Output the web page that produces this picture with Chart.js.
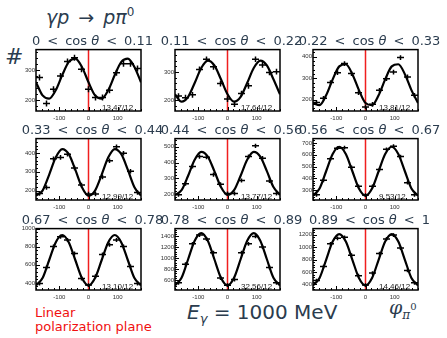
<!DOCTYPE html>
<html>
<head>
<meta charset="utf-8">
<script src="https://cdn.jsdelivr.net/npm/chart.js@4.4.1/dist/chart.umd.min.js"></script>
<style>
  body { margin: 0; width: 447px; height: 338px; background: #fff; position: relative; overflow: hidden; font-family: "DejaVu Sans", sans-serif; }
  canvas { position: absolute; }
  .txt { position: absolute; white-space: pre; color: #2b3c4e; line-height: 1; }
  .bin { font-size: 13px; width: 170px; text-align: center; }
  .lt { margin: 0 7px; }
</style>
</head>
<body>
<div class="txt" style="left:46px;top:8px;font-size:19px"><i>γp</i><span style="margin:0 9px">→</span><i>pπ</i><span style="font-size:12px;position:relative;top:-8px">0</span></div>
<div class="txt" style="left:5px;top:46px;font-size:22px">#</div>
<div class="txt" style="left:35px;top:306px;font-size:13px;line-height:13.5px;color:#f01010">Linear
polarization plane</div>
<div class="txt" style="left:187px;top:302px;font-size:20px"><i>E</i><span style="font-size:13px;position:relative;top:4px"><i>γ</i></span> = 1000 MeV</div>
<div class="txt" style="left:389px;top:298px;font-size:19px;font-family:'DejaVu Serif',serif"><i>φ</i><span style="font-size:12px;position:relative;top:5px"><i>π</i></span><span style="font-size:10px;position:relative;top:-4px">0</span></div>
<script>
// phi bin centres (deg), 15 bins of 24 deg
const phiBins = [-168, -144, -120, -96, -72, -48, -24, 0, 24, 48, 72, 96, 120, 144, 168];
const binHalfWidth = 12;
const curvePhi = [-180, -157.5, -135, -112.5, -90, -67.5, -45, -22.5, 0, 22.5, 45, 67.5, 90, 112.5, 135, 157.5, 180];

const cosLo = ['0', '0.11', '0.22', '0.33', '0.44', '0.56', '0.67', '0.78', '0.89'];
const cosHi = ['0.11', '0.22', '0.33', '0.44', '0.56', '0.67', '0.78', '0.89', '1'];
const chi2Labels = ['13.47/12', '17.64/12', '13.81/12', '12.99/12', '13.77/12', '9.53/12', '13.10/12', '32.56/12', '14.46/12'];

const counts = [
  [276, 189, 237, 281, 329, 342, 303, 237, 209, 209, 233, 292, 322, 322, 306],
  [215, 209, 219, 309, 345, 318, 259, 204, 186, 224, 251, 345, 325, 298, 301],
  [187, 207, 280, 326, 368, 322, 233, 167, 179, 244, 298, 329, 396, 306, 221],
  [185, 217, 370, 377, 394, 321, 230, 182, 182, 272, 359, 434, 399, 303, 190],
  [196, 266, 376, 438, 434, 324, 262, 204, 204, 287, 438, 506, 428, 283, 204],
  [261, 383, 565, 655, 659, 493, 333, 259, 333, 474, 645, 672, 584, 363, 261],
  [393, 569, 803, 911, 875, 724, 447, 375, 472, 713, 821, 875, 803, 580, 393],
  [546, 887, 1263, 1424, 1352, 1101, 636, 504, 606, 1101, 1263, 1400, 1203, 827, 546],
  [463, 688, 1054, 1143, 1159, 871, 541, 390, 583, 897, 1133, 1196, 986, 625, 426]
];
const countErr = [10, 10, 11, 12, 13, 16, 22, 36, 30];

const fitCurve = [
  [260, 216, 205, 233, 284, 328, 339, 311, 260, 216, 205, 233, 284, 328, 339, 311, 260],
  [221, 195, 212, 261, 314, 340, 323, 274, 221, 195, 212, 261, 314, 340, 323, 274, 221],
  [185, 175, 221, 295, 355, 365, 319, 245, 185, 175, 221, 295, 355, 365, 319, 245, 185],
  [173, 200, 284, 376, 421, 394, 310, 218, 173, 200, 284, 376, 421, 394, 310, 218, 173],
  [195, 225, 317, 418, 468, 438, 346, 245, 195, 225, 317, 418, 468, 438, 346, 245, 195],
  [253, 314, 460, 606, 667, 606, 460, 314, 253, 314, 460, 606, 667, 606, 460, 314, 253],
  [371, 453, 650, 847, 929, 847, 650, 453, 371, 453, 650, 847, 929, 847, 650, 453, 371],
  [499, 640, 980, 1320, 1461, 1320, 980, 640, 499, 640, 980, 1320, 1461, 1320, 980, 640, 499],
  [384, 505, 798, 1091, 1212, 1091, 798, 505, 384, 505, 798, 1091, 1212, 1091, 798, 505, 384]
];

const yRange = [[164, 369], [162, 379], [148, 433], [150, 477], [163, 552], [217, 736], [321, 1000], [415, 1543], [311, 1300]];
const yTicks = [
  [200, 300], [200, 300], [200, 300, 400],
  [200, 300, 400], [200, 300, 400, 500], [300, 400, 500, 600, 700],
  [400, 600, 800, 1000], [600, 800, 1000, 1200, 1400], [400, 600, 800, 1000, 1200]
];
const xTicks = [-100, 0, 100];

// layout
const colLeft = [36, 175, 313];
const rowTop = [49, 138, 228];
const plotW = 105, plotH = 62;
const padL = 26, padT = 4, padR = 6, padB = 12;
const yMinor = [20, 20, 20, 20, 20, 20, 40, 40, 40];

Chart.defaults.font.family = "'Liberation Sans', Arial, sans-serif";

const panelPlugin = {
  id: 'panel',
  afterDatasetsDraw(chart, args, opts) {
    const i = opts.idx;
    const ctx = chart.ctx, a = chart.chartArea;
    const xs = chart.scales.x, ys = chart.scales.y;
    ctx.save();
    // data points with error bars
    ctx.strokeStyle = '#000';
    ctx.lineWidth = 1.5;
    ctx.beginPath();
    phiBins.forEach((phi, j) => {
      const v = counts[i][j];
      const py = ys.getPixelForValue(v);
      ctx.moveTo(xs.getPixelForValue(phi - binHalfWidth), py);
      ctx.lineTo(xs.getPixelForValue(phi + binHalfWidth), py);
      const px = xs.getPixelForValue(phi);
      ctx.moveTo(px, ys.getPixelForValue(v - countErr[i]));
      ctx.lineTo(px, ys.getPixelForValue(v + countErr[i]));
    });
    ctx.stroke();
    // minor ticks
    ctx.lineWidth = 1;
    ctx.beginPath();
    for (let v = -180; v <= 180; v += 20) {
      const px = Math.round(xs.getPixelForValue(v)) + 0.5;
      const len = xTicks.includes(v) ? 4 : 2;
      ctx.moveTo(px, a.bottom);
      ctx.lineTo(px, a.bottom - len);
    }
    const st = yMinor[i];
    for (let v = Math.ceil(yRange[i][0] / st) * st; v <= yRange[i][1]; v += st) {
      const py = Math.round(ys.getPixelForValue(v)) + 0.5;
      const len = yTicks[i].includes(v) ? 4 : 2;
      ctx.moveTo(a.left, py);
      ctx.lineTo(a.left + len, py);
    }
    ctx.stroke();
    // frame
    ctx.lineWidth = 1.5;
    ctx.strokeRect(a.left, a.top, a.right - a.left, a.bottom - a.top);
    // chi2 / ndf
    ctx.fillStyle = '#222';
    ctx.font = "8px 'Liberation Sans', Arial, sans-serif";
    ctx.textBaseline = 'alphabetic';
    ctx.fillText(chi2Labels[i], a.left + 66, a.bottom - 1.5);
    ctx.restore();
  }
};

for (let i = 0; i < 9; i++) {
  const r = Math.floor(i / 3), c = i % 3;
  const cv = document.createElement('canvas');
  const w = plotW + padL + padR, h = plotH + padT + padB;
  cv.width = w; cv.height = h;
  cv.style.width = w + 'px'; cv.style.height = h + 'px';
  cv.style.left = (colLeft[c] - padL) + 'px';
  cv.style.top = (rowTop[r] - padT) + 'px';
  document.body.appendChild(cv);

  const lab = document.createElement('div');
  lab.className = 'txt bin';
  lab.innerHTML = cosLo[i] + '<span class="lt">&lt;</span>cos <i>θ</i><span class="lt">&lt;</span>' + cosHi[i];
  lab.style.left = (colLeft[c] + plotW / 2 + 4 - 85) + 'px';
  lab.style.top = (rowTop[r] - 4 - 11) + 'px';
  document.body.appendChild(lab);

  new Chart(cv, {
    type: 'line',
    data: {
      datasets: [
        {
          data: curvePhi.map((x, j) => ({ x: x, y: fitCurve[i][j] })),
          borderColor: '#000', borderWidth: 2.2, pointRadius: 0,
          cubicInterpolationMode: 'monotone', order: 1
        },
        {
          data: [{ x: 0, y: yRange[i][0] }, { x: 0, y: yRange[i][1] }],
          borderColor: '#f01e1e', borderWidth: 1.5, pointRadius: 0, order: 2
        }
      ]
    },
    options: {
      responsive: false, animation: false, events: [],
      layout: { padding: { left: 0, top: padT, right: padR, bottom: 0 } },
      plugins: { legend: { display: false }, tooltip: { enabled: false }, panel: { idx: i } },
      scales: {
        x: {
          type: 'linear', min: -180, max: 180,
          afterBuildTicks: s => { s.ticks = xTicks.map(v => ({ value: v })); },
          afterFit: s => { s.height = padB; },
          grid: { display: false, drawTicks: false, tickLength: 0 }, border: { display: false },
          ticks: { font: { size: 6 }, color: '#333', padding: 4, maxRotation: 0, autoSkip: false, callback: v => String(v) }
        },
        y: {
          type: 'linear', min: yRange[i][0], max: yRange[i][1],
          afterBuildTicks: s => { s.ticks = yTicks[i].map(v => ({ value: v })); },
          afterFit: s => { s.width = padL; },
          grid: { display: false, drawTicks: false, tickLength: 0 }, border: { display: false },
          ticks: { font: { size: 6 }, color: '#333', padding: 1, autoSkip: false, callback: v => String(v) }
        }
      }
    },
    plugins: [panelPlugin]
  });
}
</script>
</body>
</html>
